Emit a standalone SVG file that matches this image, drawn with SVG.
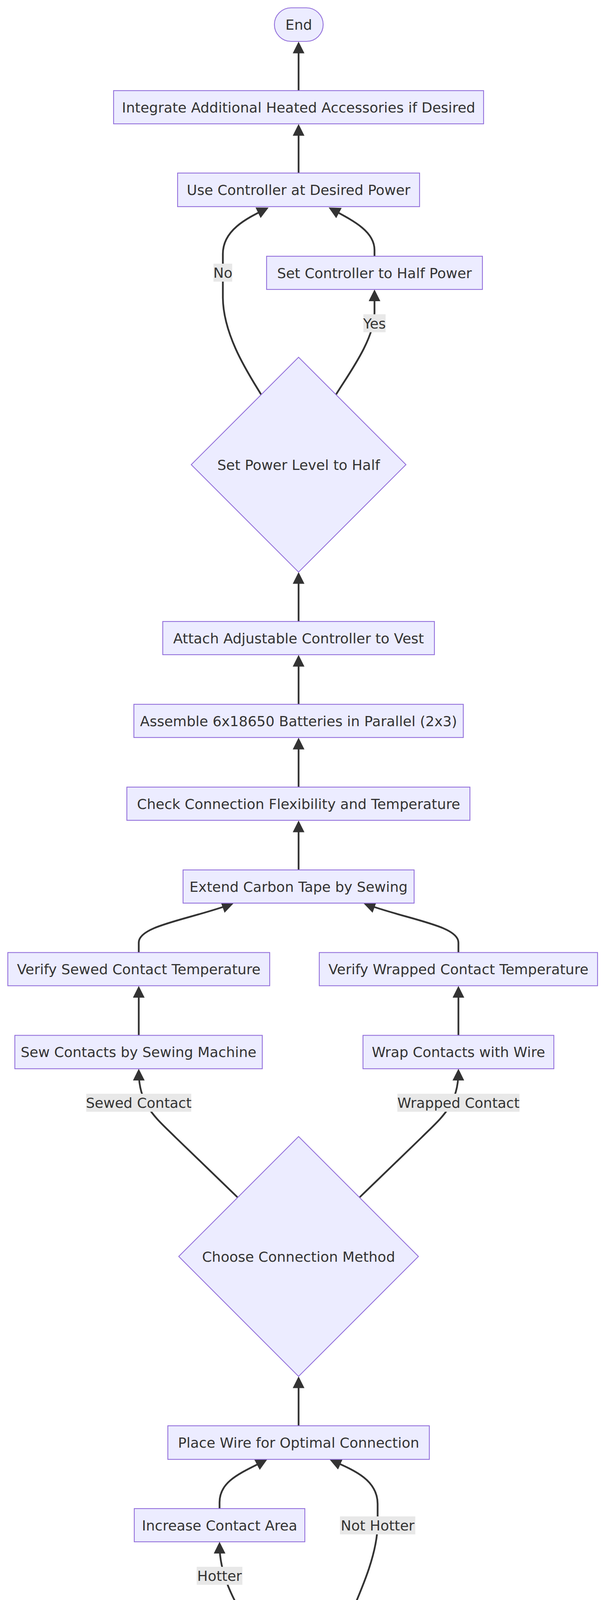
<svg xmlns="http://www.w3.org/2000/svg" width="1568" height="6022" viewBox="0 0 1568 6022">
<defs>
<style>
.node rect,.node polygon{fill:#ECECFF;stroke:#9370DB;stroke-width:2.2}
.node text,.lbl text{font-family:"DejaVu Sans","Liberation Sans",sans-serif;font-size:36px;fill:#333333;text-anchor:middle}
.edge{fill:none;stroke:#333333;stroke-width:4.5;marker-end:url(#arrow)}
.lbl rect{fill:#e8e8e8}
</style>
<marker id="arrow" viewBox="0 0 10 10" refX="7" refY="5" markerUnits="userSpaceOnUse" markerWidth="30" markerHeight="30" orient="auto">
<path d="M0,0 L10,5 L0,10 z" fill="#333333"/>
</marker>
</defs>
<rect x="0" y="0" width="1568" height="6022" fill="#ffffff"/>
<g id="connectors">
<path class="edge" d="M765,232 L765,115.5"/>
<path class="edge" d="M765,443 L765,326.5"/>
<path class="edge" d="M959.5,656 L959.5,640 C959.5,592 905,565 850,535.5"/>
<path class="edge" d="M669,1010 C640,962 571,860 571,760 L571,650 C571,590 630,560 680,535.5"/>
<path class="edge" d="M861,1010 C890,962 959.5,870 959.5,800 L959.5,750"/>
<path class="edge" d="M765,1591 L765,1473.5"/>
<path class="edge" d="M765,1803 L765,1685.5"/>
<path class="edge" d="M765,2015 L765,1897.5"/>
<path class="edge" d="M765,2227 L765,2109.5"/>
<path class="edge" d="M355.5,2438.5 L355.5,2413 C355.5,2370 480,2355 590,2315.5"/>
<path class="edge" d="M1174.5,2438.5 L1174.5,2413 C1174.5,2370 1050,2355 940,2315.5"/>
<path class="edge" d="M355.5,2650.5 L355.5,2533"/>
<path class="edge" d="M1174.5,2650.5 L1174.5,2533"/>
<path class="edge" d="M609,3065.5 L450,2912 C400,2862 356,2830 355.5,2745"/>
<path class="edge" d="M921,3065.5 L1080,2912 C1130,2862 1174,2830 1174.5,2745"/>
<path class="edge" d="M765,3650 L765,3532.5"/>
<path class="edge" d="M562.5,3862 L562.5,3846 C562.5,3790 620,3770 677,3740"/>
<path class="edge" d="M666.5,4219 C630,4140 563,4060 562.5,3956"/>
<path class="edge" d="M863.5,4219 C900,4120 967.5,4000 967.5,3900 L967.5,3850 C967.5,3790 910,3765 853,3740"/>
<path class="edge" d="M765,4795 L765,4678.5"/>
<path class="edge" d="M765,5006.5 L765,4890"/>
<path class="edge" d="M765,5218.5 L765,5101"/>
<path class="edge" d="M766,5431 L765,5313"/>
<path class="edge" d="M765,5642.5 L765,5525"/>
<path class="edge" d="M765,5854 L765,5736.5"/>
</g>
<g id="edge-labels">
<g class="lbl" id="label-no"><rect x="547" y="675" width="48" height="46"/><text x="571" y="711">No</text></g>
<g class="lbl" id="label-yes"><rect x="931" y="804.5" width="57" height="46"/><text x="959.5" y="840.5">Yes</text></g>
<g class="lbl" id="label-sewed"><rect x="221" y="2800" width="269" height="46"/><text x="355.5" y="2836">Sewed Contact</text></g>
<g class="lbl" id="label-wrapped"><rect x="1018" y="2800" width="313" height="46"/><text x="1174.5" y="2836">Wrapped Contact</text></g>
<g class="lbl" id="label-nothotter"><rect x="871" y="3882" width="193" height="46"/><text x="967.5" y="3918">Not Hotter</text></g>
<g class="lbl" id="label-hotter"><rect x="504" y="4011" width="117" height="46"/><text x="562.5" y="4047">Hotter</text></g>
</g>
<g id="nodes">
<g class="node" id="end"><rect x="703" y="20" width="125" height="86" rx="43" ry="43"/><text x="765.5" y="76">End</text></g>
<g class="node" id="integrate"><rect x="291" y="232" width="948" height="85"/><text x="765" y="287.5">Integrate Additional Heated Accessories if Desired</text></g>
<g class="node" id="use-controller"><rect x="455" y="443" width="620" height="86"/><text x="765" y="499">Use Controller at Desired Power</text></g>
<g class="node" id="set-half"><rect x="683" y="656" width="553" height="85"/><text x="959.5" y="711.5">Set Controller to Half Power</text></g>
<g class="node" id="power-level"><polygon points="765,914.5 1040,1189.5 765,1464.5 490,1189.5"/><text x="765" y="1202.5">Set Power Level to Half</text></g>
<g class="node" id="attach"><rect x="417" y="1591" width="696" height="85"/><text x="765" y="1646.5">Attach Adjustable Controller to Vest</text></g>
<g class="node" id="assemble"><rect x="343" y="1803" width="844" height="85"/><text x="765" y="1858.5">Assemble 6x18650 Batteries in Parallel (2x3)</text></g>
<g class="node" id="check-flex"><rect x="325" y="2015" width="879" height="85"/><text x="765" y="2070.5">Check Connection Flexibility and Temperature</text></g>
<g class="node" id="extend"><rect x="469" y="2227" width="592" height="85"/><text x="765" y="2282.5">Extend Carbon Tape by Sewing</text></g>
<g class="node" id="verify-sewed"><rect x="20" y="2438.5" width="671" height="85"/><text x="355.5" y="2494">Verify Sewed Contact Temperature</text></g>
<g class="node" id="verify-wrapped"><rect x="818" y="2438.5" width="713" height="85"/><text x="1174.5" y="2494">Verify Wrapped Contact Temperature</text></g>
<g class="node" id="sew-contacts"><rect x="38" y="2650.5" width="634" height="85.5"/><text x="355" y="2706">Sew Contacts by Sewing Machine</text></g>
<g class="node" id="wrap-contacts"><rect x="930" y="2650.5" width="489" height="85.5"/><text x="1174.5" y="2706">Wrap Contacts with Wire</text></g>
<g class="node" id="choose"><polygon points="765,2909.5 1072,3216.5 765,3523.5 458,3216.5"/><text x="765" y="3229.5">Choose Connection Method</text></g>
<g class="node" id="place-wire"><rect x="430" y="3650" width="670" height="86"/><text x="765" y="3706">Place Wire for Optimal Connection</text></g>
<g class="node" id="increase"><rect x="344" y="3862" width="437" height="85"/><text x="562.5" y="3917.5">Increase Contact Area</text></g>
<g class="node" id="check-heat"><polygon points="765,4120.5 1039.5,4395 765,4669.5 490.5,4395"/><text x="765" y="4408">Check Connection Heat</text></g>
<g class="node" id="confirm"><rect x="348" y="4795" width="834" height="86"/><text x="765" y="4851">Confirm Power Consumption (3A under 12V)</text></g>
<g class="node" id="connect-tape"><rect x="397" y="5006.5" width="736" height="85.5"/><text x="765" y="5062">Connect Tape in Parallel Configuration</text></g>
<g class="node" id="arrange"><rect x="555" y="5218.5" width="420" height="85.5"/><text x="765" y="5274">Arrange Tape on Vest</text></g>
<g class="node" id="take-tape"><polygon points="377,5431 1194,5431 1152,5516 335,5516"/><text x="764.5" y="5486">Take 6 meters of carbon heating flex tape</text></g>
<g class="node" id="prepare"><rect x="518" y="5642.5" width="494" height="85"/><text x="765" y="5698">Prepare Heating Element</text></g>
<g class="node" id="start"><rect x="691" y="5854" width="147" height="85" rx="42.5" ry="42.5"/><text x="764.5" y="5909.5">Start</text></g>
</g>
</svg>
